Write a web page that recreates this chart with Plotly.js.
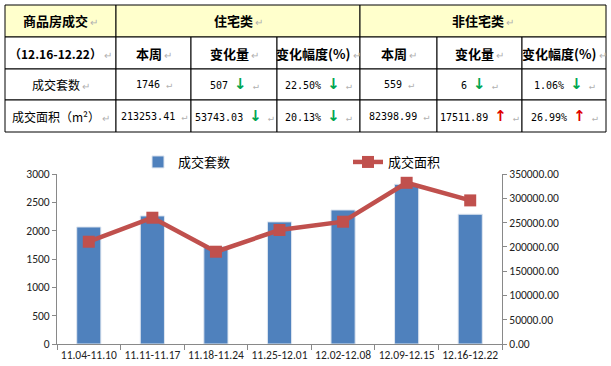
<!DOCTYPE html>
<html><head><meta charset="utf-8">
<script src="https://cdn.plot.ly/plotly-3.0.1.min.js"></script>
<style>html,body{margin:0;padding:0;background:#fff}</style>
</head><body><div id="chart" style="width:611px;height:366px"></div>
<script>
// ---------- chart data ----------
const weeks = ['11.04-11.10','11.11-11.17','11.18-11.24','11.25-12.01','12.02-12.08','12.09-12.15','12.16-12.22'];
const dealUnits = [2065, 2260, 1720, 2155, 2365, 2818, 2290];
const dealArea = [210600, 260000, 190000, 234700, 251800, 331900, 295650];
const seriesNames = ['成交套数','成交面积'];

// ---------- table data ----------
const tableTitle = ['商品房成交','（12.16-12.22）'];
const groupNames = ['住宅类','非住宅类'];
const subHeads = ['本周','变化量','变化幅度(%)'];
const rowNames = ['成交套数','成交面积（m²）'];
const resThisWeek = ['1746','213253.41'];
const resChange = ['507','53743.03'];
const resPct = ['22.50%','20.13%'];
const resDir = ['down','down'];
const nonThisWeek = ['559','82398.99'];
const nonChange = ['6','17511.89'];
const nonPct = ['1.06%','26.99%'];
const nonDir = ['down','up'];

// ---------- geometry (pixels) ----------
const W = 611, H = 366;
const colEdges = [5,116,191,277,360,437,522,606];
const rowEdges = [5,37,69,100,132];
const px = x => x / W;
const py = y => 1 - y / H;

const RET = '<span style="color:#b0b0b0;font-size:10px"> ↵</span>';
const arrow = d => d === 'down'
  ? ' <span style="color:#00A651;font-size:15px;font-family:DejaVu Sans"><b>↓</b></span>'
  : ' <span style="color:#E00000;font-size:15px;font-family:DejaVu Sans"><b>↑</b></span>';

const shapes = [];
const annotations = [];
function cell(c0, c1, r, text, opts) {
  opts = opts || {};
  const x0 = colEdges[c0], x1 = colEdges[c1], y0 = rowEdges[r], y1 = rowEdges[r + 1];
  shapes.push({type:'rect', xref:'paper', yref:'paper', x0:px(x0), x1:px(x1), y0:py(y0), y1:py(y1),
    line:{color:'#000', width:1}, fillcolor: opts.fill || '#ffffff', layer:'below'});
  annotations.push({xref:'paper', yref:'paper', x:px((x0 + x1) / 2), y:py((y0 + y1) / 2),
    xanchor:'center', yanchor:'middle', showarrow:false, text:text,
    font:{family: opts.family || '"Noto Sans CJK SC", sans-serif', size: opts.size || 12, color:'#000'}});
}
const YEL = '#FFFFCC';
const numFont = '"DejaVu Sans Mono", "Noto Sans CJK SC", monospace';
// row 0
cell(0, 1, 0, '<b>' + tableTitle[0] + '</b>' + RET, {fill: YEL, size: 13});
cell(1, 4, 0, '<b>' + groupNames[0] + '</b>' + RET, {fill: YEL, size: 13});
cell(4, 7, 0, '<b>' + groupNames[1] + '</b>' + RET, {fill: YEL, size: 13});
// row 1
cell(0, 1, 1, '<b>' + tableTitle[1] + '</b>' + RET, {size: 12});
for (let g = 0; g < 2; g++) {
  for (let i = 0; i < 3; i++) {
    cell(1 + g * 3 + i, 2 + g * 3 + i, 1, '<b>' + subHeads[i] + '</b>' + RET, {size: 13});
  }
}
// rows 2-3
for (let r = 0; r < 2; r++) {
  cell(0, 1, 2 + r, rowNames[r] + RET, {size: 12});
  cell(1, 2, 2 + r, resThisWeek[r] + RET, {family: numFont, size: 10});
  cell(2, 3, 2 + r, resChange[r] + arrow(resDir[r]) + RET, {family: numFont, size: 10});
  cell(3, 4, 2 + r, resPct[r] + arrow(resDir[r]) + RET, {family: numFont, size: 10});
  cell(4, 5, 2 + r, nonThisWeek[r] + RET, {family: numFont, size: 10});
  cell(5, 6, 2 + r, nonChange[r] + arrow(nonDir[r]) + RET, {family: numFont, size: 10});
  cell(6, 7, 2 + r, nonPct[r] + arrow(nonDir[r]) + RET, {family: numFont, size: 10});
}

// ---------- chart ----------
const tickFont = {family: 'Carlito, "Liberation Sans", Arial, sans-serif', size: 11.5, color: '#222'};
const traces = [
  {type:'bar', name: seriesNames[0], x: weeks, y: dealUnits, width: 0.38,
   marker:{color:'#4F81BD', line:{color:'#dfe6f0', width:1}}},
  {type:'scatter', mode:'lines+markers', name: seriesNames[1], x: weeks, y: dealArea, yaxis:'y2',
   line:{color:'#C0504D', width:4.5}, marker:{symbol:'square', size:12, color:'#C0504D'}}
];
const layout = {
  width: W, height: H,
  margin:{l:0, r:0, t:0, b:0},
  paper_bgcolor:'#fff', plot_bgcolor:'rgba(0,0,0,0)',
  showlegend: true,
  legend:{orientation:'h', x: px(138), y: py(162), xanchor:'left', yanchor:'middle',
    font:{family:'"Noto Sans CJK SC", sans-serif', size:13, color:'#000'},
    entrywidth: 165, entrywidthmode:'pixels', bgcolor:'rgba(0,0,0,0)'},
  bargap: 0,
  xaxis:{domain:[px(57), px(502)], type:'category', showline:true, linecolor:'#898989', linewidth:1,
    ticks:'outside', ticklen:5, tickcolor:'#898989', tickson:'boundaries', showgrid:false,
    tickangle:0, tickfont: tickFont, automargin:false, zeroline:false, fixedrange:true},
  yaxis:{domain:[py(344), py(174)], range:[0, 3000], dtick:500, showline:true, linecolor:'#898989',
    ticks:'outside', ticklen:4, tickcolor:'#898989', showgrid:false, zeroline:false,
    tickfont: tickFont, automargin:false},
  yaxis2:{overlaying:'y', side:'right', anchor:'x', range:[0, 350000], dtick:50000, tickformat:'.2f',
    showline:true, linecolor:'#898989', ticks:'outside', ticklen:4, tickcolor:'#898989',
    showgrid:false, zeroline:false, tickfont: tickFont, automargin:false},
  shapes: shapes,
  annotations: annotations
};
Plotly.newPlot('chart', traces, layout, {displayModeBar:false, staticPlot:true});
</script>
</body></html>
